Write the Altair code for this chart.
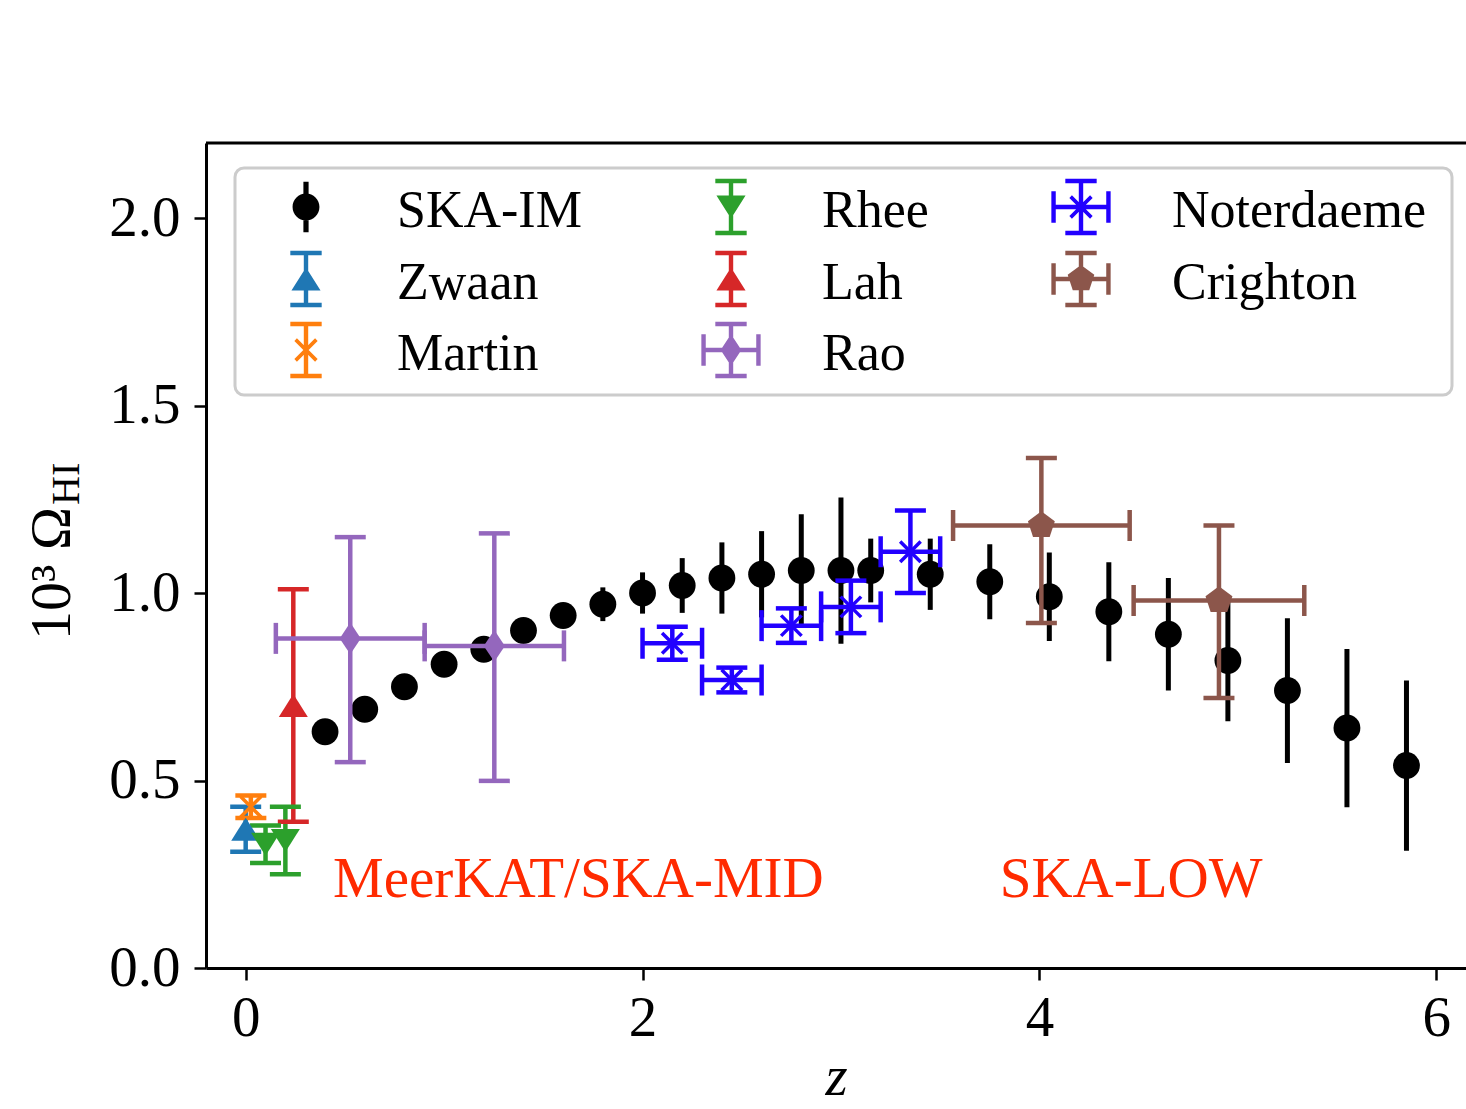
import math
import altair as alt
import pandas as pd

# ---- SKA intensity-mapping forecast (MeerKAT/SKA-MID then SKA-LOW) ----
im_z = [0.4, 0.6, 0.8, 1.0, 1.2, 1.4, 1.6, 1.8, 2.0, 2.2, 2.4, 2.6, 2.8, 3.0, 3.15,
        3.45, 3.75, 4.05, 4.35, 4.65, 4.95, 5.25, 5.55, 5.85]
im_omega = [0.63, 0.69, 0.75, 0.81, 0.85, 0.90, 0.94, 0.97, 1.00, 1.02, 1.04, 1.05, 1.06, 1.06, 1.06,
            1.05, 1.03, 0.99, 0.95, 0.89, 0.82, 0.74, 0.64, 0.54]
im_err = [0.010, 0.012, 0.015, 0.018, 0.022, 0.026, 0.030, 0.045, 0.055, 0.073, 0.095, 0.115, 0.150, 0.195, 0.085,
          0.095, 0.100, 0.118, 0.132, 0.150, 0.162, 0.193, 0.211, 0.227]

# ---- observational measurements ----
zwaan_z, zwaan_omega, zwaan_err = [0.0], [0.37], [0.06]
martin_z, martin_omega, martin_err = [0.026], [0.43], [0.03]
rhee_z, rhee_omega, rhee_err = [0.10, 0.20], [0.33, 0.34], [0.05, 0.09]
lah_z, lah_omega, lah_err = [0.24], [0.70], [0.31]
rao_z, rao_zerr = [0.527, 1.253], [0.375, 0.351]
rao_omega, rao_err_lo, rao_err_hi = [0.879, 0.859], [0.33, 0.36], [0.27, 0.30]
noter_z, noter_zerr = [2.15, 2.45, 2.75, 3.05, 3.35], [0.15, 0.15, 0.15, 0.15, 0.15]
noter_omega, noter_err = [0.866, 0.768, 0.913, 0.963, 1.11], [0.044, 0.033, 0.046, 0.07, 0.11]
crighton_z, crighton_zerr = [4.01, 4.905], [0.445, 0.43]
crighton_omega, crighton_err_lo, crighton_err_hi = [1.18, 0.98], [0.26, 0.26], [0.18, 0.20]

# annotation text
notes = ["MeerKAT/SKA-MID", "SKA-LOW"]
notes_z = [0.44, 3.80]
notes_omega = [0.19, 0.19]

# legend entries, column by column (three per column)
legend_series = ["SKA-IM", "Zwaan", "Martin", "Rhee", "Lah", "Rao", "Noterdaeme", "Crighton"]

colors = {
    "SKA-IM": "#000000", "Zwaan": "#1f77b4", "Martin": "#ff7f0e", "Rhee": "#2ca02c",
    "Lah": "#d62728", "Rao": "#9467bd", "Noterdaeme": "#2200ff", "Crighton": "#8c564b",
}

PENT = "M0,-1L0.951,-0.309L0.588,0.809L-0.588,0.809L-0.951,-0.309Z"
markers = {
    "SKA-IM": ("circle", 720, True),
    "Zwaan": ("M0,-0.79L1,0.79L-1,0.79Z", 841, True),
    "Martin": ("M-1,-1L1,1M-1,1L1,-1", 420, False),
    "Rhee": ("M0,0.79L1,-0.79L-1,-0.79Z", 841, True),
    "Lah": ("M0,-0.79L1,0.79L-1,0.79Z", 841, True),
    "Rao": ("M0,-1L0.667,0L0,1L-0.667,0Z", 1000, True),
    "Noterdaeme": ("M-1,-1L1,1M-1,1L1,-1", 420, False),
    "Crighton": (PENT, 800, True),
}


# ---- legend glyphs (marker + error-bar handle) built from filled polygons ----
def poly(pts):
    area = sum(pts[i][0] * pts[(i + 1) % len(pts)][1] - pts[(i + 1) % len(pts)][0] * pts[i][1]
               for i in range(len(pts)))
    if area < 0:
        pts = pts[::-1]
    return "M" + "L".join(f"{x:.4f},{y:.4f}" for x, y in pts) + "Z"


def seg(x0, y0, x1, y1, half):
    dx, dy = x1 - x0, y1 - y0
    n = math.hypot(dx, dy)
    nx, ny = -dy / n * half, dx / n * half
    return poly([(x0 + nx, y0 + ny), (x1 + nx, y1 + ny), (x1 - nx, y1 - ny), (x0 - nx, y0 - ny)])


U = 28.0          # pixels per glyph unit (glyph symbol size 56 px)
LW = 2.2 / U      # half line width
VBAR = seg(0, -0.93, 0, 0.93, LW) + seg(-0.56, -0.93, 0.56, -0.93, LW) + seg(-0.56, 0.93, 0.56, 0.93, LW)
HBAR = seg(-0.98, 0, 0.98, 0, LW) + seg(-0.98, -0.56, -0.98, 0.56, LW) + seg(0.98, -0.56, 0.98, 0.56, LW)
XMARK = seg(-0.37, -0.37, 0.37, 0.37, 1.8 / U) + seg(-0.37, 0.37, 0.37, -0.37, 1.8 / U)
CIRC = "M0.48,0A0.48,0.48,0,1,1,-0.48,0A0.48,0.48,0,1,1,0.48,0Z"
TRI_UP = poly([(0, -0.41), (0.52, 0.41), (-0.52, 0.41)])
TRI_DN = poly([(0, 0.41), (0.52, -0.41), (-0.52, -0.41)])
legend_glyph = {
    "SKA-IM": seg(0, -0.9, 0, 0.9, 2.6 / U) + CIRC,
    "Zwaan": VBAR + TRI_UP,
    "Martin": VBAR + XMARK,
    "Rhee": VBAR + TRI_DN,
    "Lah": VBAR + TRI_UP,
    "Rao": VBAR + HBAR + poly([(0, -0.56), (0.37, 0), (0, 0.56), (-0.37, 0)]),
    "Noterdaeme": VBAR + HBAR + XMARK,
    "Crighton": VBAR + HBAR + poly([(0, -0.5), (0.476, -0.155), (0.294, 0.405), (-0.294, 0.405), (-0.476, -0.155)]),
}

# legend box layout, in pixels from the top-left corner of the plot area
LEG_BOX = (29, 25, 1246, 252)
LEG_COL_X = [100, 525, 875]
LEG_ROW_Y = [64, 136, 207]
LEG_LABEL_DX, LEG_LABEL_DY = 91, 20

rows = []


def add(series, zs, vs, elo, ehi, zerr_lo=None, zerr_hi=None):
    for i, (z, v) in enumerate(zip(zs, vs)):
        r = {
            "series": series, "z": z, "v": v,
            "vlo": v - elo[i], "vhi": v + ehi[i],
            "color": colors[series],
            "shape": markers[series][0], "msize": markers[series][1],
            "filled": markers[series][2],
            "has_x": zerr_lo is not None,
        }
        if zerr_lo is not None:
            r["zlo"] = z - zerr_lo[i]
            r["zhi"] = z + zerr_hi[i]
        else:
            r["zlo"] = z
            r["zhi"] = z
        rows.append(r)


add("SKA-IM", im_z, im_omega, im_err, im_err)
add("Zwaan", zwaan_z, zwaan_omega, zwaan_err, zwaan_err)
add("Martin", martin_z, martin_omega, martin_err, martin_err)
add("Rhee", rhee_z, rhee_omega, rhee_err, rhee_err)
add("Lah", lah_z, lah_omega, lah_err, lah_err)
add("Rao", rao_z, rao_omega, rao_err_lo, rao_err_hi, rao_zerr, rao_zerr)
add("Noterdaeme", noter_z, noter_omega, noter_err, noter_err, noter_zerr, noter_zerr)
add("Crighton", crighton_z, crighton_omega, crighton_err_lo, crighton_err_hi, crighton_zerr, crighton_zerr)

df = pd.DataFrame(rows)
im_df = df[df.series == "SKA-IM"]
obs_df = df[df.series != "SKA-IM"]
obs_x = obs_df[obs_df.has_x]

legend_df = pd.DataFrame({
    "series": legend_series,
    "color": [colors[s] for s in legend_series],
    "glyph": [legend_glyph[s] for s in legend_series],
    "gx": [LEG_COL_X[i // 3] for i in range(len(legend_series))],
    "gy": [LEG_ROW_Y[i % 3] for i in range(len(legend_series))],
})
legend_df["tx"] = legend_df["gx"] + LEG_LABEL_DX
legend_df["ty"] = legend_df["gy"] + LEG_LABEL_DY

notes_df = pd.DataFrame({"label": notes, "z": notes_z, "v": notes_omega})

W, H = 1260, 825
xs = alt.Scale(domain=[-0.2, 6.15], nice=False, zero=False)
ys = alt.Scale(domain=[0, 2.2], nice=False, zero=False)


def X(f):
    return alt.X(f, type="quantitative", scale=xs,
                 axis=alt.Axis(values=[0, 2, 4, 6], format="d", title="z"))


def Y(f):
    return alt.Y(f, type="quantitative", scale=ys,
                 axis=alt.Axis(values=[0, 0.5, 1.0, 1.5, 2.0], format=".1f", title=None))


col = alt.Color("color:N", scale=None, legend=None)
LWC = 4.5   # error-bar width for the observational points

im_bars = alt.Chart(im_df).mark_rule(strokeWidth=5, color="black").encode(
    x=X("z"), y=Y("vlo"), y2="vhi")
im_pts = alt.Chart(im_df).mark_point(filled=True, shape="circle", size=720, color="black",
                                     opacity=1).encode(x=X("z"), y=Y("v"))

obs_ybars = alt.Chart(obs_df).mark_rule(strokeWidth=LWC).encode(
    x=X("z"), y=Y("vlo"), y2="vhi", color=col)
obs_xbars = alt.Chart(obs_x).mark_rule(strokeWidth=LWC).encode(
    x=X("zlo"), x2="zhi", y=Y("v"), color=col)
ycap_lo = alt.Chart(obs_df).mark_tick(orient="horizontal", size=31, thickness=LWC, opacity=1).encode(
    x=X("z"), y=Y("vlo"), color=col)
ycap_hi = alt.Chart(obs_df).mark_tick(orient="horizontal", size=31, thickness=LWC, opacity=1).encode(
    x=X("z"), y=Y("vhi"), color=col)
xcap_lo = alt.Chart(obs_x).mark_tick(orient="vertical", size=31, thickness=LWC, opacity=1).encode(
    x=X("zlo"), y=Y("v"), color=col)
xcap_hi = alt.Chart(obs_x).mark_tick(orient="vertical", size=31, thickness=LWC, opacity=1).encode(
    x=X("zhi"), y=Y("v"), color=col)
obs_filled = alt.Chart(obs_df[obs_df.filled]).mark_point(filled=True, opacity=1, strokeWidth=0).encode(
    x=X("z"), y=Y("v"), color=col,
    shape=alt.Shape("shape:N", scale=None, legend=None),
    size=alt.Size("msize:Q", scale=None, legend=None))
obs_open = alt.Chart(obs_df[~obs_df.filled]).mark_point(filled=False, opacity=1, strokeWidth=3.5).encode(
    x=X("z"), y=Y("v"), color=col,
    shape=alt.Shape("shape:N", scale=None, legend=None),
    size=alt.Size("msize:Q", scale=None, legend=None))

# ---- legend: framed box with error-bar glyphs and labels ----
legend_frame = alt.Chart(pd.DataFrame({"a": [0]})).mark_rect(
    cornerRadius=9, fill="white", fillOpacity=0.8, stroke="#cccccc", strokeWidth=3
).encode(x=alt.value(LEG_BOX[0]), x2=alt.value(LEG_BOX[2]),
         y=alt.value(LEG_BOX[1]), y2=alt.value(LEG_BOX[3]))
legend_glyphs = alt.Chart(legend_df).mark_point(filled=True, opacity=1, strokeWidth=0, size=3136).encode(
    x=alt.X("gx:Q", scale=None, axis=None),
    y=alt.Y("gy:Q", scale=None, axis=None),
    color=col,
    shape=alt.Shape("glyph:N", scale=None, legend=None))
legend_labels = alt.Chart(legend_df).mark_text(
    font="Liberation Serif", fontSize=52, color="black", align="left", baseline="alphabetic"
).encode(x=alt.X("tx:Q", scale=None, axis=None), y=alt.Y("ty:Q", scale=None, axis=None), text="series:N")

note_text = alt.Chart(notes_df).mark_text(
    font="Liberation Serif", fontSize=57, color="#ff2a00", align="left", baseline="alphabetic"
).encode(x=X("z"), y=Y("v"), text="label:N")

# y-axis title: 10^3 Omega with HI subscript
ytitle_main = alt.Chart(pd.DataFrame({"t": ["10³ Ω"]})).mark_text(
    font="Liberation Serif", fontSize=58, color="black", angle=270, align="right", baseline="alphabetic"
).encode(x=alt.value(-136), y=alt.value(364), text="t:N")
ytitle_sub = alt.Chart(pd.DataFrame({"t": ["HI"]})).mark_text(
    font="Liberation Serif", fontSize=40, color="black", angle=270, align="left", baseline="alphabetic"
).encode(x=alt.value(-127), y=alt.value(362), text="t:N")

top_spine = alt.Chart(pd.DataFrame({"a": [0]})).mark_rule(color="black", strokeWidth=3).encode(
    x=alt.value(0), x2=alt.value(W), y=alt.value(0))

chart = alt.layer(
    im_bars, im_pts,
    obs_ybars, obs_xbars, ycap_lo, ycap_hi, xcap_lo, xcap_hi, obs_filled, obs_open,
    legend_frame, legend_glyphs, legend_labels,
    note_text, ytitle_main, ytitle_sub, top_spine,
).properties(
    width=W, height=H,
    autosize=alt.AutoSizeParams(type="none"),
    padding={"left": 206, "top": 143, "right": 0, "bottom": 141},
    background="white",
).configure_view(stroke=None).configure_axis(
    domainColor="black", domainWidth=3, tickColor="black", tickWidth=2.5, tickSize=12,
    labelFont="Liberation Serif", labelFontSize=57, labelColor="black",
    labelPadding=10, grid=False, labelFlush=False, labelOverlap=False,
    titleFont="Liberation Serif", titleFontSize=57, titleFontStyle="italic",
    titleFontWeight="normal", titleColor="black", titlePadding=3,
).configure_axisY(labelPadding=14)

chart.save("out.html", embed_options={"renderer": "svg", "actions": False})
